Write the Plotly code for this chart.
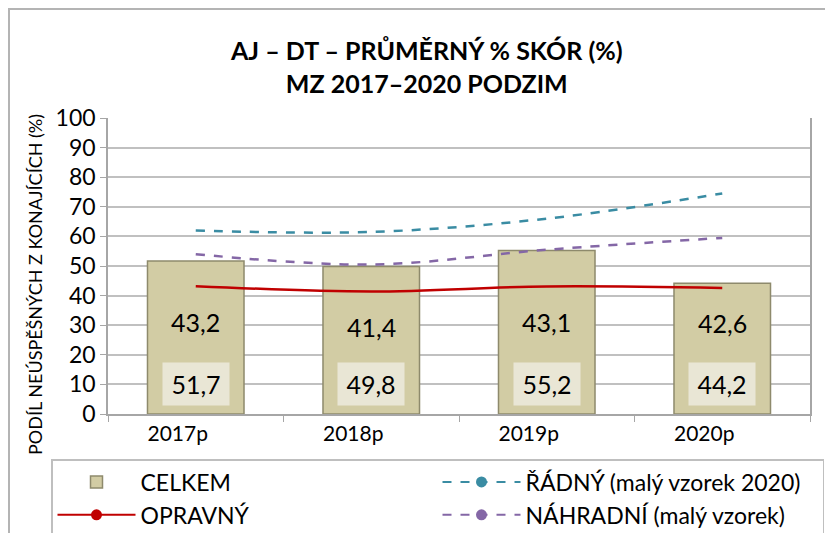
import plotly.graph_objects as go

categories = ["2017p", "2018p", "2019p", "2020p"]
celkem = [51.7, 49.8, 55.2, 44.2]
opravny = [43.2, 41.4, 43.1, 42.6]
radny = [62.0, 61.5, 66.0, 74.5]
nahradni = [54.0, 50.5, 55.5, 59.5]
y_ticks = [0, 10, 20, 30, 40, 50, 60, 70, 80, 90, 100]

FONT = "Lato"
fmt = lambda v: f"{v:.1f}".replace(".", ",")

OFF = 8  # page body margin
W, H = 825, 525
L, R, T, B = 108 - OFF, 810 - OFF, 118 - OFF, 414 - OFF
PW, PH = R - L, B - T
px = lambda x: (x - OFF - L) / PW   # x given in reference page pixels
py = lambda y: (B - (y - OFF)) / PH

fig = go.Figure()

fig.add_trace(go.Bar(
    x=categories, y=celkem, name="CELKEM", width=0.55,
    marker=dict(color="#d2cca4", line=dict(color="#8e8a6c", width=1.5)),
    showlegend=False,
))
fig.add_trace(go.Scatter(
    x=categories, y=radny, mode="lines", line=dict(color="#3a8ca3", width=2.5, dash="dash", shape="spline"),
    showlegend=False, name="ŘÁDNÝ (malý vzorek 2020)"))
fig.add_trace(go.Scatter(
    x=categories, y=nahradni, mode="lines", line=dict(color="#8467a6", width=2.5, dash="dash", shape="spline"),
    showlegend=False, name="NÁHRADNÍ (malý vzorek)"))
fig.add_trace(go.Scatter(
    x=categories, y=opravny, mode="lines", line=dict(color="#c00000", width=2.5, shape="spline"),
    showlegend=False, name="OPRAVNÝ"))

# legend-only entries
fig.add_trace(go.Bar(x=[None], y=[None], name="CELKEM",
                     marker=dict(color="#d2cca4", line=dict(color="#8e8a6c", width=1.5))))
fig.add_trace(go.Scatter(x=[None], y=[None], name="ŘÁDNÝ (malý vzorek 2020)", mode="lines+markers",
                         line=dict(color="#3a8ca3", width=2, dash="dash"),
                         marker=dict(color="#3a8ca3", size=11)))
fig.add_trace(go.Scatter(x=[None], y=[None], name="OPRAVNÝ", mode="lines+markers",
                         line=dict(color="#c00000", width=2), marker=dict(color="#c00000", size=11)))
fig.add_trace(go.Scatter(x=[None], y=[None], name="NÁHRADNÍ (malý vzorek)", mode="lines+markers",
                         line=dict(color="#8467a6", width=2, dash="dash"),
                         marker=dict(color="#8467a6", size=11)))

annotations = []
for c, v, o in zip(categories, celkem, opravny):
    annotations.append(dict(x=c, y=10, xref="x", yref="y", text=fmt(v), showarrow=False,
                            font=dict(family=FONT, size=25, color="#000"),
                            bgcolor="#e9e6d5", width=64, height=40))
    annotations.append(dict(x=c, y=o - 12, xref="x", yref="y", text=fmt(o), showarrow=False,
                            font=dict(family=FONT, size=25, color="#000")))

annotations.append(dict(x=px(35), y=py(285), xref="paper", yref="paper",
                        xanchor="center", yanchor="middle",
                        text="PODÍL NEÚSPĚŠNÝCH Z KONAJÍCÍCH (%)", textangle=-90,
                        showarrow=False, font=dict(family=FONT, size=18, color="#000")))
annotations.append(dict(x=px(426), y=py(67), xref="paper", yref="paper", xanchor="center",
                        yanchor="middle",
                        text="<b>AJ – DT – PRŮMĚRNÝ % SKÓR (%)</b><br><b>MZ 2017–2020 PODZIM</b>",
                        showarrow=False, font=dict(family=FONT, size=25, color="#000"),
                        align="center"))

shapes = [dict(type="rect", xref="paper", yref="paper",
               x0=px(9), x1=1.5, y0=-1.0, y1=py(9),
               line=dict(color="#b4b4b4", width=2), layer="below")]

fig.update_layout(
    width=W, height=H,
    margin=dict(l=L, r=W - R, t=T, b=H - B, autoexpand=False),
    paper_bgcolor="white", plot_bgcolor="white",
    font=dict(family=FONT, color="#000"),
    annotations=annotations, shapes=shapes,
    showlegend=True,
    legend=dict(orientation="h", x=px(51), y=py(459),
                xanchor="left", yanchor="top",
                bordercolor="#bfbfbf", borderwidth=1.5,
                font=dict(family=FONT, size=23), entrywidth=292, traceorder="normal",
                itemwidth=78, tracegroupgap=0),
    xaxis=dict(tickfont=dict(family=FONT, size=21), showline=True, linecolor="#a6a6a6", linewidth=1.5,
               ticks="outside", tickson="boundaries", ticklen=6, tickcolor="#a6a6a6",
               showgrid=False, mirror=False, ticklabelshift=-18),
    yaxis=dict(range=[0, 100], tickvals=y_ticks, tickfont=dict(family=FONT, size=23),
               showgrid=True, gridcolor="#c0c0c0", gridwidth=1.5,
               showline=True, linecolor="#a6a6a6", linewidth=1.5, ticks="outside", ticklen=6,
               tickcolor="#a6a6a6", zeroline=False, mirror=True),
)

fig.write_html("out.html")
